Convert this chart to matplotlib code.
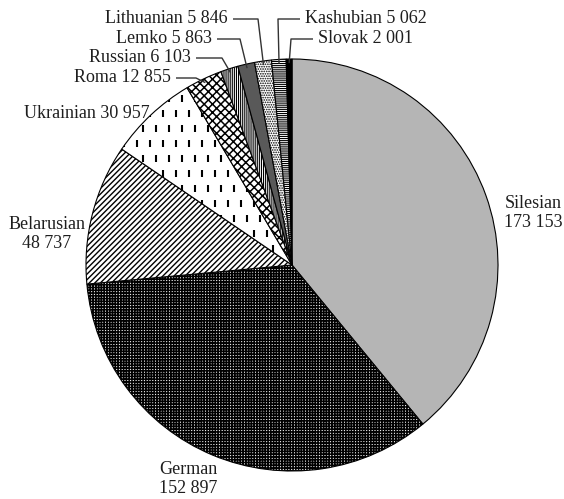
import matplotlib
matplotlib.use("Agg")
import matplotlib.pyplot as plt
import numpy as np
from matplotlib.collections import LineCollection

# National and ethnic minorities, number of people
groups = ['Silesian', 'German', 'Belarusian', 'Ukrainian', 'Roma',
          'Russian', 'Lemko', 'Lithuanian', 'Kashubian', 'Slovak']
counts = [173153, 152897, 48737, 30957, 12855, 6103, 5863, 5846, 5062, 2001]

# fill style for each slice
faces = ['#b5b5b5', '#f0f0f0', 'white', 'white', 'white',
         'white', '#595959', 'white', 'white', 'black']
hatches = [None, '++++++', '//////', None, 'xxxx', '||||||||', None,
           '.......', '--------', None]
hatch_lw = [0.8, 1.15, 1.0, 0.8, 1.1, 0.8, 0.8, 0.8, 0.8, 0.8]

plt.rcParams['font.family'] = ['Liberation Serif', 'DejaVu Serif']
plt.rcParams['hatch.linewidth'] = 0.8

W, H, DPI = 564, 499, 100
CX, CY, R = 292, 265, 206   # pie centre and radius in pixels

fig = plt.figure(figsize=(W / DPI, H / DPI), dpi=DPI)
ax = fig.add_axes([0, 0, 1, 1])

wedges, _ = ax.pie(counts, startangle=90, counterclock=False, colors=faces,
                   wedgeprops=dict(edgecolor='black', linewidth=0.8))
for w, h, lw in zip(wedges, hatches, hatch_lw):
    if h:
        w.set_hatch(h)
        if hasattr(w, 'set_hatch_linewidth'):
            w.set_hatch_linewidth(lw)

ax.set_xlim(-CX / R, (W - CX) / R)
ax.set_ylim(-(H - CY) / R, CY / R)
ax.set_aspect('auto')
ax.axis('off')


def px(x, y):
    return (x - CX) / R, (CY - y) / R


# vertical dash pattern for the Ukrainian slice
segs = []
step_x, step_y, dash = 13 / R, 15 / R, 7 / R
for j, yy in enumerate(np.arange(-1.1, 1.1, step_y)):
    off = (j % 2) * step_x / 2
    for xx in np.arange(-1.1 + off, 1.1, step_x):
        segs.append([(xx, yy), (xx, yy + dash)])
lc = LineCollection(segs, colors='black', linewidths=1.5)
ax.add_collection(lc)
lc.set_clip_path(wedges[3])


def fmt(v):
    return f'{v:,}'.replace(',', ' ')


def edge_point(w, r=0.98):
    a = np.deg2rad((w.theta1 + w.theta2) / 2)
    return r * np.cos(a), r * np.sin(a)


fs = 13
tc = '#1e1e1e'
# two-line labels beside the large slices
for i, (x, y) in zip([0, 1, 2], [(533, 213), (188, 479), (47, 234)]):
    ax.text(*px(x, y), f'{groups[i]}\n{fmt(counts[i])}', ha='center',
            va='center', fontsize=fs, color=tc, linespacing=1.1)

# Ukrainian label sits right at the slice edge
ax.text(*px(150, 113), f'{groups[3]} {fmt(counts[3])}', ha='right',
        va='center', fontsize=fs, color=tc)

# small slices: label, horizontal leader, then down to the slice
callouts = {
    4: (171, 77, 196, 'right'),
    5: (191, 57, 222, 'right'),
    6: (212, 38, 240, 'right'),
    7: (228, 18, 258, 'right'),
    8: (305, 18, 278, 'left'),
    9: (318, 38, 291, 'left'),
}
for i, (tx, ty, kx, ha) in callouts.items():
    ax.text(*px(tx, ty), f'{groups[i]} {fmt(counts[i])}', ha=ha,
            va='center', fontsize=fs, color=tc)
    gap = 5 if ha == 'right' else -5
    x0, y0 = px(tx + gap, ty + 1)
    x1, y1 = px(kx, ty + 1)
    x2, y2 = edge_point(wedges[i])
    ax.plot([x0, x1, x2], [y0, y1, y2], color='#333333', lw=1.0,
            solid_capstyle='butt')

fig.savefig('out.png', dpi=DPI)
